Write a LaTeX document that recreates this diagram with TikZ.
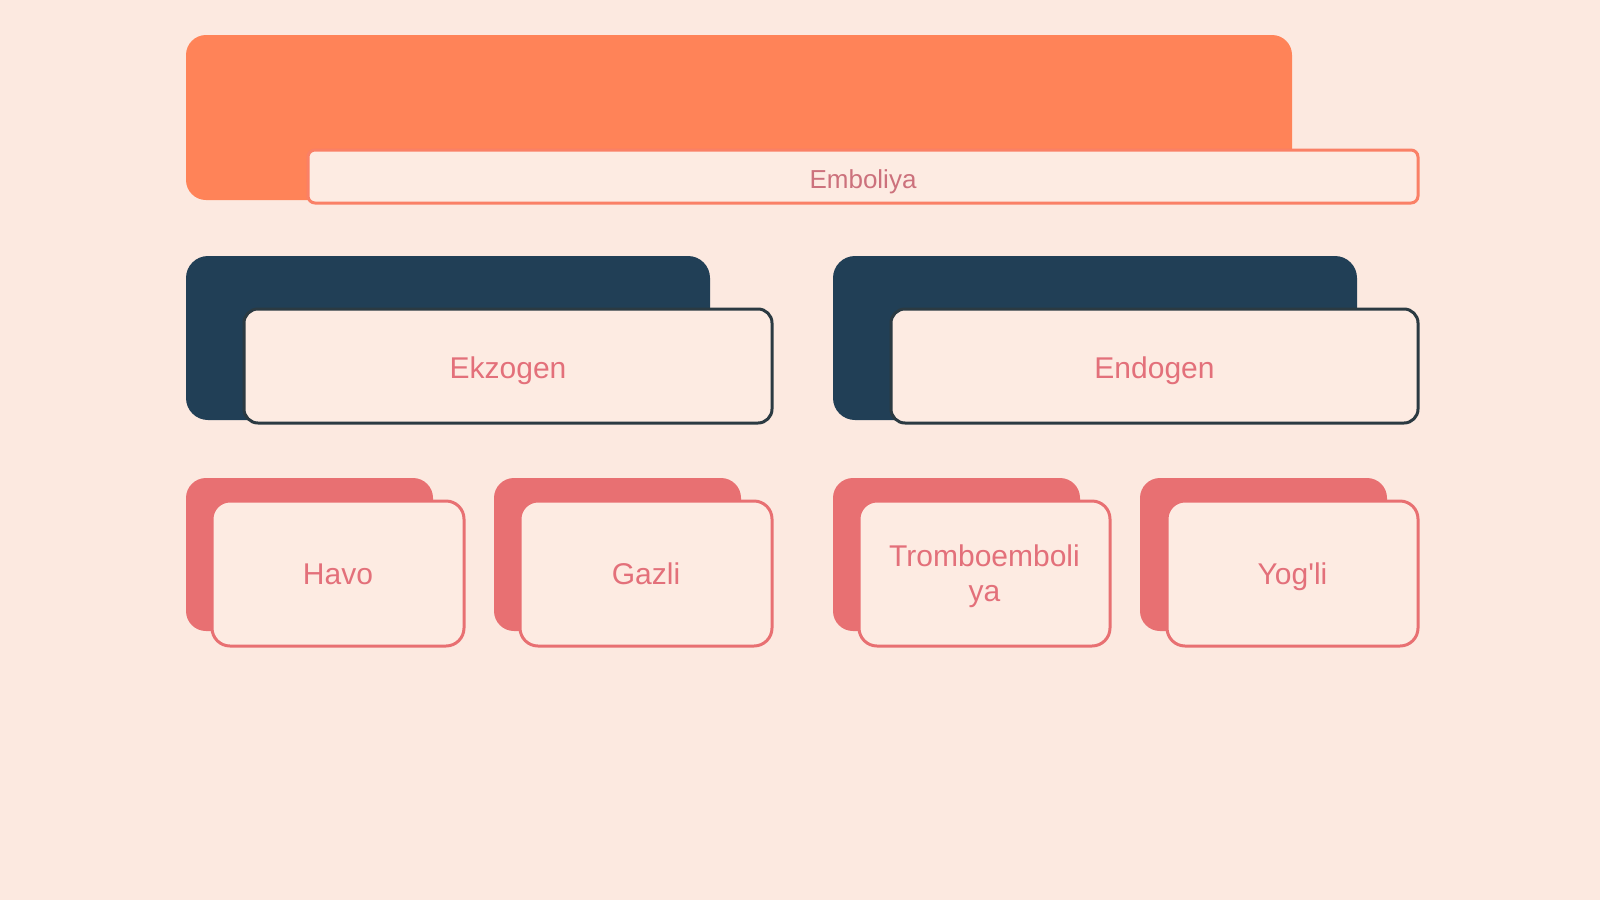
\documentclass[tikz,border=0pt]{standalone}
\usepackage{fontspec}
\setmainfont{Liberation Sans}
\definecolor{bg}{HTML}{FCE9E0}
\definecolor{boxfill}{HTML}{FDEBE2}
\definecolor{orangec}{HTML}{FF8358}
\definecolor{orangeline}{HTML}{FA8066}
\definecolor{darkc}{HTML}{213F56}
\definecolor{darkline}{HTML}{2B3A42}
\definecolor{pinkc}{HTML}{E87072}
\definecolor{txtc}{HTML}{E3707A}
\definecolor{titletxt}{HTML}{CC717C}
\begin{document}
\begin{tikzpicture}[x=1pt,y=-1pt,
  box/.style={anchor=north west, inner sep=0pt, outer sep=0pt},
  backorange/.style={box, fill=orangec, rounded corners=20pt},
  titlebar/.style={box, fill=boxfill, draw=orangeline, line width=3pt, rounded corners=7pt},
  backdark/.style={box, fill=darkc, rounded corners=22pt},
  frontdark/.style={box, fill=boxfill, draw=darkline, line width=3pt, rounded corners=14pt},
  backpink/.style={box, fill=pinkc, rounded corners=20pt},
  frontpink/.style={box, fill=boxfill, draw=pinkc, line width=3pt, rounded corners=18pt},
  lbl/.style={text=txtc, font=\fontsize{30}{35}\selectfont, align=center}
]
\useasboundingbox (0,0) rectangle (1600,900);
\fill[bg] (0,0) rectangle (1600,900);

% title
\node[backorange, minimum width=1106pt, minimum height=165pt] (tback) at (186,35) {};
\node[titlebar, minimum width=1110pt, minimum height=53pt] (tfront) at (308,150) {};
\node[text=titletxt, font=\fontsize{26}{30}\selectfont, yshift=-5pt] (ttxt) at (tfront.center) {Emboliya};

% second level
\node[backdark, minimum width=524pt, minimum height=164pt] (ekback) at (186,256) {};
\node[frontdark, minimum width=528pt, minimum height=114pt] (ekfront) at (244,309) {};
\node[lbl, yshift=-5pt] (ektxt) at (ekfront.center) {Ekzogen};

\node[backdark, minimum width=524pt, minimum height=164pt] (enback) at (833,256) {};
\node[frontdark, minimum width=527pt, minimum height=114pt] (enfront) at (891,309) {};
\node[lbl, yshift=-5pt] (entxt) at (enfront.center) {Endogen};

% third level
\node[backpink, minimum width=247pt, minimum height=153pt] (hback) at (186,478) {};
\node[frontpink, minimum width=252pt, minimum height=145pt] (hfront) at (212,501) {};
\node[lbl, yshift=-1pt] (htxt) at (hfront.center) {Havo};

\node[backpink, minimum width=247pt, minimum height=153pt] (gback) at (494,478) {};
\node[frontpink, minimum width=252pt, minimum height=145pt] (gfront) at (520,501) {};
\node[lbl] (gtxt) at (gfront.center) {Gazli};

\node[backpink, minimum width=247pt, minimum height=153pt] (tbback) at (833,478) {};
\node[frontpink, minimum width=251pt, minimum height=145pt] (tbfront) at (859,501) {};
\node[lbl, yshift=-3pt] (tbtxt) at (tbfront.center) {Tromboemboli\\ya};

\node[backpink, minimum width=247pt, minimum height=153pt] (yback) at (1140,478) {};
\node[frontpink, minimum width=251pt, minimum height=145pt] (yfront) at (1167,501) {};
\node[lbl, yshift=-3pt] (ytxt) at (yfront.center) {Yog\textquotesingle li};
\end{tikzpicture}
\end{document}
